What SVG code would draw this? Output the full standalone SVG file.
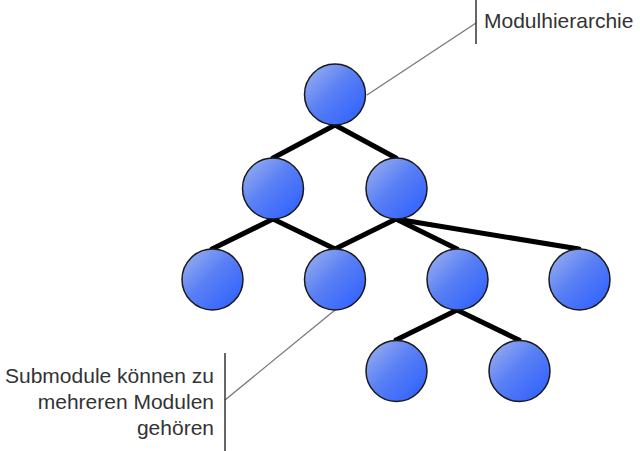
<svg xmlns="http://www.w3.org/2000/svg" width="640" height="451" viewBox="0 0 640 451">
<defs>
<linearGradient id="g" x1="0" y1="0" x2="1" y2="1">
<stop offset="0" stop-color="#a3b6ee"/>
<stop offset="0.45" stop-color="#5a80f4"/>
<stop offset="1" stop-color="#2a5cff"/>
</linearGradient>
<style>
.n{fill:url(#g);stroke:#1a1a1a;stroke-width:1.5}
.e{stroke:#000;stroke-width:5;stroke-linecap:round;fill:none}
.c{stroke:#777;stroke-width:1.3;fill:none}
.b{stroke:#333;stroke-width:1.5;fill:none}
.t{font-family:"Liberation Sans",Arial,sans-serif;font-size:21px;fill:#333}
</style>
</defs>
<rect width="640" height="451" fill="#fff"/>
<g id="connectors">
<line class="e" x1="335" y1="125" x2="273" y2="158"/>
<line class="e" x1="335" y1="125" x2="396" y2="158"/>
<line class="e" x1="273" y1="219" x2="212" y2="249"/>
<line class="e" x1="273" y1="219" x2="335" y2="249"/>
<line class="e" x1="396" y1="219" x2="335" y2="249"/>
<line class="e" x1="396" y1="219" x2="457" y2="249"/>
<line class="e" x1="396" y1="219" x2="579" y2="249"/>
<line class="e" x1="457" y1="310" x2="396" y2="340"/>
<line class="e" x1="457" y1="310" x2="519" y2="340"/>
</g>
<g id="callout-top">
<line class="c" x1="367" y1="95" x2="476" y2="23"/>
<line class="b" x1="476" y1="0" x2="476" y2="44"/>
<text class="t" x="484" y="28">Modulhierarchie</text>
</g>
<g id="callout-bottom">
<line class="c" x1="335" y1="310" x2="225" y2="400"/>
<line class="b" x1="225" y1="353" x2="225" y2="451"/>
<text class="t" text-anchor="end" x="214" y="383">Submodule können zu</text>
<text class="t" text-anchor="end" x="214" y="409">mehreren Modulen</text>
<text class="t" text-anchor="end" x="214" y="435">gehören</text>
</g>
<g id="n-root"><circle class="n" cx="335" cy="94.5" r="30.5"/></g>
<g id="n-a"><circle class="n" cx="273" cy="188.5" r="30.5"/></g>
<g id="n-b"><circle class="n" cx="396.5" cy="188.5" r="30.5"/></g>
<g id="n-c"><circle class="n" cx="212.5" cy="279.5" r="30.5"/></g>
<g id="n-d"><circle class="n" cx="335" cy="279.5" r="30.5"/></g>
<g id="n-e"><circle class="n" cx="457.5" cy="279.5" r="30.5"/></g>
<g id="n-f"><circle class="n" cx="579.5" cy="279.5" r="30.5"/></g>
<g id="n-g"><circle class="n" cx="396.5" cy="371" r="30.5"/></g>
<g id="n-h"><circle class="n" cx="519.5" cy="371" r="30.5"/></g>
</svg>
